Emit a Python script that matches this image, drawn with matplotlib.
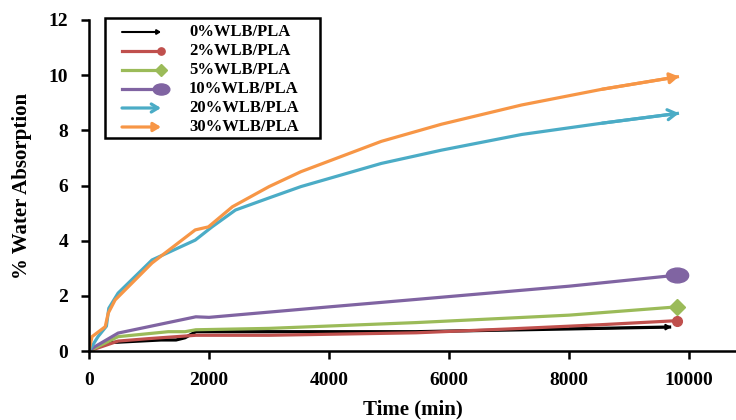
import numpy as np
import matplotlib
matplotlib.use("Agg")
import matplotlib.pyplot as plt
from matplotlib.path import Path
from matplotlib.patches import Rectangle

plt.rcParams["font.family"] = ["Liberation Serif", "DejaVu Serif"]
plt.rcParams["font.weight"] = "bold"

# time (min) and % water absorption
t_0 = [0, 300, 1200, 1450, 1600, 1780, 3000, 5450, 8000, 9700]
w_0 = [0, 0.30, 0.40, 0.40, 0.48, 0.70, 0.70, 0.70, 0.80, 0.87]

t_2 = [0, 485, 1000, 1780, 3000, 5450, 7000, 8500, 9800]
w_2 = [0, 0.36, 0.45, 0.57, 0.57, 0.66, 0.80, 0.95, 1.10]

t_5 = [0, 485, 1320, 1600, 1780, 3000, 5450, 8000, 9800]
w_5 = [0, 0.52, 0.70, 0.70, 0.77, 0.82, 1.03, 1.30, 1.60]

t_10 = [0, 100, 485, 1780, 2000, 4000, 5450, 8000, 9800]
w_10 = [0, 0.16, 0.65, 1.24, 1.22, 1.60, 1.87, 2.35, 2.75]

t_20 = [0, 150, 290, 330, 485, 1050, 1770, 2050, 2440, 3000, 3530, 4870, 5870, 7210, 8550, 9830]
w_20 = [0, 0.52, 0.90, 1.55, 2.10, 3.30, 4.02, 4.50, 5.11, 5.55, 5.96, 6.80, 7.28, 7.85, 8.26, 8.62]

t_30 = [0, 50, 270, 320, 435, 1050, 1770, 1990, 2390, 3000, 3530, 4870, 5870, 7210, 8550, 9830]
w_30 = [0, 0.52, 0.88, 1.37, 1.85, 3.19, 4.39, 4.50, 5.23, 5.96, 6.50, 7.60, 8.22, 8.92, 9.49, 9.95]

labels = ["0%WLB/PLA", "2%WLB/PLA", "5%WLB/PLA", "10%WLB/PLA", "20%WLB/PLA", "30%WLB/PLA"]
colors = ["#000000", "#c0504d", "#9bbb59", "#8064a2", "#4bacc6", "#f79646"]

circ = Path.unit_circle()
ellipse = Path(circ.vertices * np.array([1.5, 1.0]), circ.codes)
# end style: ("arrow", arrowstyle, size) or ("marker", marker, size)
ends = [("arrow", "-|>", 8), ("marker", "o", 7), ("marker", "D", 8),
        ("marker", ellipse, 16), ("arrow", "->", 18), ("arrow", "-|>", 16)]

series = [(t_0, w_0), (t_2, w_2), (t_5, w_5), (t_10, w_10), (t_20, w_20), (t_30, w_30)]

fig = plt.figure(figsize=(7.36, 4.2), dpi=100)
ax = fig.add_axes([89 / 736, 69 / 420, 647 / 736, 331 / 420])

LW = 2.3


def arrow_props(st, sz, c):
    lw_a = 1.5 if c == "#000000" else LW
    return dict(arrowstyle=f"{st},head_length={sz/30:.2f},head_width={sz/50:.2f}",
                color=c, lw=lw_a, shrinkA=0, shrinkB=0)


for (t, w), c, (kind, st, sz) in zip(series, colors, ends):
    ax.plot(t, w, color=c, lw=LW, solid_capstyle="butt", solid_joinstyle="round")
    if kind == "arrow":
        ax.annotate("", xy=(t[-1], w[-1]), xytext=(t[-2], w[-2]), arrowprops=arrow_props(st, sz, c))
    else:
        ax.plot(t[-1], w[-1], marker=st, color=c, ms=sz, mec=c)

ax.set_xlim(0, 10780)
ax.set_ylim(0, 12)
ax.set_xticks(range(0, 10001, 2000))
ax.set_yticks(range(0, 13, 2))
ax.spines["top"].set_visible(False)
ax.spines["right"].set_visible(False)
ax.spines["left"].set_linewidth(1.8)
ax.spines["bottom"].set_linewidth(1.8)
ax.tick_params(direction="out", length=6, width=1.8, labelsize=14)
ax.tick_params(axis="x", pad=9)
ax.tick_params(axis="y", pad=9)
for lab in ax.get_xticklabels() + ax.get_yticklabels():
    lab.set_fontweight("bold")
ax.set_xlabel("Time (min)", fontsize=15, fontweight="bold", labelpad=8)
ax.set_ylabel("% Water Absorption", fontsize=15, fontweight="bold", labelpad=12)


def fy(p):
    # pixel row from top -> axes fraction
    return (351 - p) / 331


def fx(p):
    return (p - 89) / 647


# legend box drawn by hand so the end styles match the lines
box = Rectangle((fx(105), fy(138)), fx(320) - fx(105), fy(18) - fy(138), transform=ax.transAxes,
                fill=False, edgecolor="black", lw=1.8, clip_on=False)
ax.add_patch(box)
for i, (lab, c, (kind, st, sz)) in enumerate(zip(labels, colors, ends)):
    y = fy(32 + i * 19)
    x0, x1 = fx(122), fx(161)
    if kind == "arrow":
        ax.annotate("", xy=(x1, y), xytext=(x0, y), xycoords="axes fraction",
                    arrowprops=arrow_props(st, sz * 0.8, c))
    else:
        ax.plot([x0, x1], [y, y], color=c, lw=LW, transform=ax.transAxes, clip_on=False)
        ax.plot(x1, y, marker=st, color=c, ms=sz * 0.75, transform=ax.transAxes, clip_on=False)
    ax.text(fx(189), y, lab, transform=ax.transAxes, fontsize=12, fontweight="bold",
            va="center", ha="left")

fig.savefig("out.png", dpi=100)
